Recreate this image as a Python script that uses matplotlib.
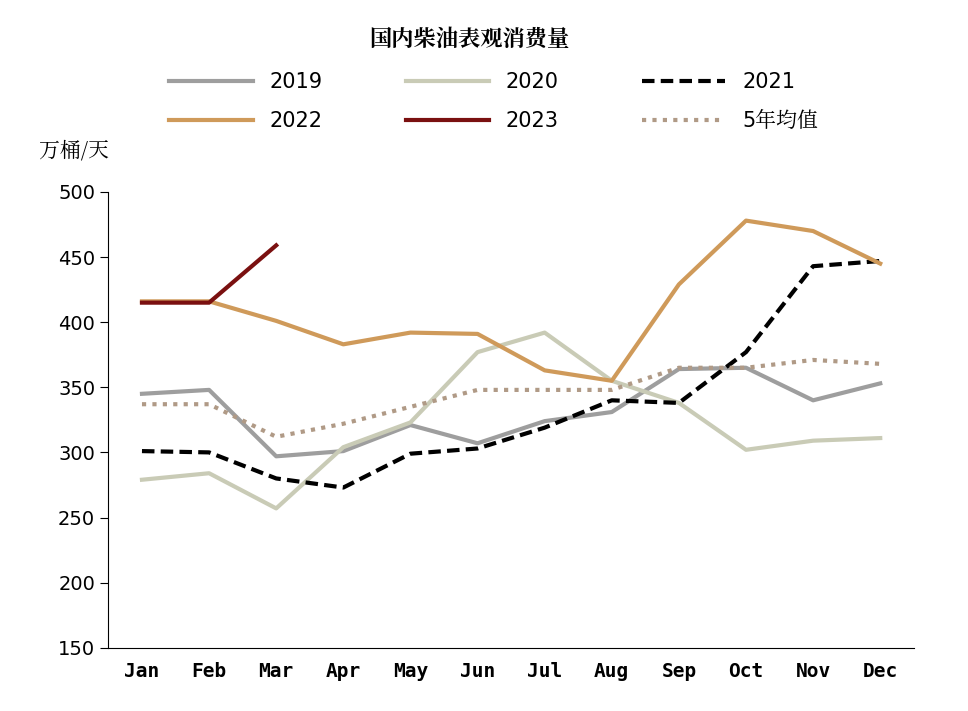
import matplotlib
matplotlib.use("Agg")
import matplotlib.pyplot as plt
from matplotlib import font_manager
import numpy as np

# find a CJK font on this machine
cjk = None
for f in font_manager.findSystemFonts():
    n = f.lower()
    if "cjk" in n and ("sc" in n or "ttc" in n):
        cjk = f
        break
if cjk:
    font_manager.fontManager.addfont(cjk)
    cjk_name = font_manager.FontProperties(fname=cjk).get_name()
else:
    cjk_name = "Noto Sans CJK SC"
plt.rcParams["font.family"] = ["DejaVu Sans", cjk_name]

months = ["Jan", "Feb", "Mar", "Apr", "May", "Jun", "Jul", "Aug", "Sep", "Oct", "Nov", "Dec"]
y2019 = [345, 348, 297, 301, 321, 307, 324, 331, 364, 365, 340, 353]
y2020 = [279, 284, 257, 304, 323, 377, 392, 355, 338, 302, 309, 311]
y2021 = [301, 300, 280, 273, 299, 303, 319, 340, 338, 377, 443, 447]
y2022 = [416, 416, 401, 383, 392, 391, 363, 355, 429, 478, 470, 445]
y2023 = [415, 415, 459]
avg5 = [337, 337, 312, 322, 335, 348, 348, 348, 365, 365, 371, 368]

fig = plt.figure(figsize=(9.68, 7.11), dpi=100)
ax = fig.add_axes([0.112, 0.089, 0.832, 0.641])
x = np.arange(12)
l1, = ax.plot(x, y2019, color="#9e9e9e", lw=3, label="2019")
l2, = ax.plot(x, y2020, color="#c9cbb6", lw=3, label="2020")
l3, = ax.plot(x, y2021, color="black", lw=3, ls=(0, (3, 1.5)), label="2021")
l4, = ax.plot(x, y2022, color="#cf9a5a", lw=3, label="2022")
l5, = ax.plot(x[:3], y2023, color="#7a1010", lw=3, label="2023")
l6, = ax.plot(x, avg5, color="#b09a86", lw=3, ls=(0, (1, 1.5)), label="5年均值")

ax.set_xlim(-0.5, 11.5)
ax.set_ylim(150, 500)
ax.set_yticks(range(150, 501, 50))
ax.set_xticks(x)
ax.set_xticklabels(months, fontfamily="DejaVu Sans Mono", fontweight="bold")
ax.tick_params(axis="both", labelsize=14)
ax.tick_params(axis="x", length=0, pad=10)
ax.tick_params(axis="y", direction="out", length=6)
for s in ["top", "right"]:
    ax.spines[s].set_visible(False)

fig.text(0.485, 0.935, "国内柴油表观消费量", ha="center", fontsize=16, fontweight="bold",
         fontfamily=cjk_name)
fig.text(0.04, 0.78, "万桶/天", fontsize=15, fontfamily=cjk_name)
fig.legend(handles=[l1, l4, l2, l5, l3, l6], ncol=3, loc="upper center",
           bbox_to_anchor=(0.51, 0.925), frameon=False, fontsize=15,
           handlelength=4, columnspacing=4, labelspacing=0.9)
fig.savefig("out.png")
